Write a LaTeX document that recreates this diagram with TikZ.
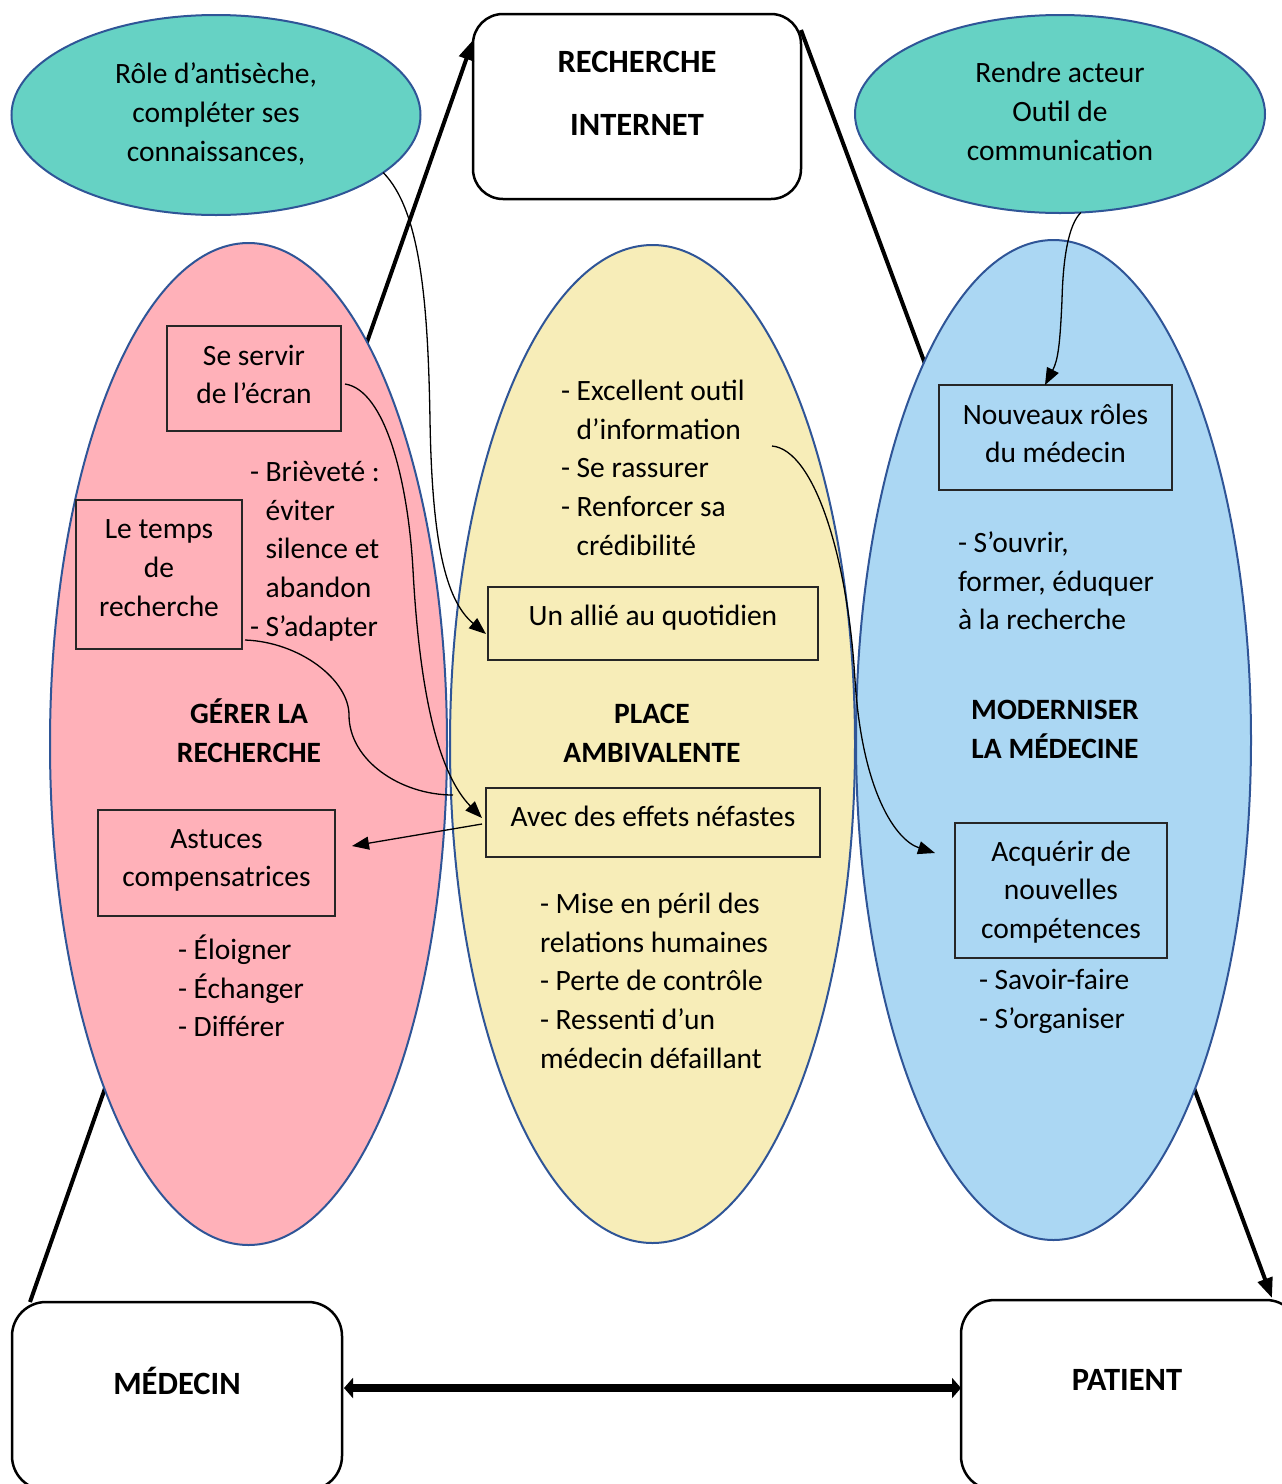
\documentclass[tikz,border=0pt]{standalone}
\usepackage{fontspec}
\setmainfont{Carlito}
\usetikzlibrary{shapes.geometric,arrows.meta}
\definecolor{tealc}{RGB}{102,210,196}
\definecolor{pinkc}{RGB}{255,177,185}
\definecolor{yellc}{RGB}{247,237,184}
\definecolor{bluec}{RGB}{171,215,243}
\definecolor{edgec}{RGB}{47,85,151}
\newcommand{\dpth}[1]{\rule[-#1pt]{0pt}{#1pt}}
\newcommand{\ind}{\phantom{- }}
\begin{document}
\begin{tikzpicture}[x=1pt,y=-1pt,
  every node/.style={font=\fontsize{29.5}{38.8}\selectfont, inner sep=0pt, outer sep=0pt},
  bigell/.style={ellipse, draw=edgec, line width=2pt},
  innerbox/.style={draw=black!85, line width=1.3pt, align=center},
  rbox/.style={draw=black, line width=2.5pt, rounded corners=30pt, align=center, font=\fontsize{32.5}{38.8}\selectfont\bfseries},
  txt/.style={align=left, anchor=north west},
  ttl/.style={align=center, anchor=north, font=\fontsize{29.5}{38.8}\selectfont\bfseries},
  bigarrow/.style={line width=4pt, -{Triangle[length=20pt,width=15pt]}},
  thinline/.style={line width=1.3pt},
  thinarrow/.style={line width=1.3pt, -{Triangle[length=17pt,width=13pt]}},
  dblarrow/.style={line width=8pt, {Triangle[length=9pt,width=20pt]}-{Triangle[length=9pt,width=20pt]}}
]
\useasboundingbox (0,0) rectangle (1282,1484);

% rounded boxes
\node[rbox, minimum width=328pt, minimum height=185pt] (recherche) at (637,106.5)
  {\strut RECHERCHE\\[24.2pt]INTERNET\dpth{31.3}};
\node[rbox, minimum width=330pt, minimum height=188pt, rounded corners=34pt] (medecin) at (177,1396)
  {\strut MÉDECIN\dpth{31.3}};
\node[rbox, minimum width=339pt, minimum height=190pt, rounded corners=34pt] (patient) at (1130.5,1395)
  {\strut PATIENT\hspace{7pt}\dpth{35.3}};

% thick connectors (behind the ellipses)
\draw[bigarrow] ([xshift=18pt]medecin.north west) -- ([yshift=-26pt]recherche.north west);
\draw[bigarrow] ([yshift=-16pt]recherche.north east) -- ([xshift=-28pt,yshift=2pt]patient.north east);

% big ellipses
\node[bigell, fill=pinkc, minimum width=397pt, minimum height=1002pt] (pink) at (248.5,744) {};
\node[bigell, fill=yellc, minimum width=405pt, minimum height=998pt] (yellow) at (652.5,744) {};
\node[bigell, fill=bluec, minimum width=395pt, minimum height=1000pt] (blue) at (1053.5,740) {};

% teal ellipses
\node[bigell, fill=tealc, minimum width=409pt, minimum height=200pt, align=center] (antiseche) at (216,115)
  {\strut Rôle d’antisèche,\\compléter ses\\connaissances,\strut};
\node[bigell, fill=tealc, minimum width=410pt, minimum height=198pt, align=center] (acteur) at (1060,114)
  {\strut Rendre acteur\\Outil de\\communication\strut};

% pink ellipse content
\node[innerbox, minimum width=174pt, minimum height=105pt] (servir) at (254,378.5)
  {\strut Se servir\\de l’écran\dpth{15.3}};
\node[innerbox, minimum width=166pt, minimum height=149pt] (temps) at (159,574.5)
  {\strut Le temps\\de\\recherche\dpth{21.3}};
\node[innerbox, minimum width=237pt, minimum height=106pt] (astuces) at (216.5,863)
  {\strut Astuces\\compensatrices\dpth{18.3}};
\node[txt] (brievete) at (250,454.2)
  {\strut - Brièveté :\\\ind éviter\\\ind silence et\\\ind abandon\\- S’adapter\strut};
\node[ttl] (gerer) at (249,696.2) {\strut GÉRER LA\\RECHERCHE\strut};
\node[txt] (eloigner) at (178,932.2)
  {\strut - Éloigner\\- Échanger\\- Différer\strut};

% yellow ellipse content
\node[txt] (outil) at (561,373.2)
  {\strut - Excellent outil\\\ind d’information\\- Se rassurer\\- Renforcer sa\\\ind crédibilité\strut};
\node[innerbox, minimum width=330pt, minimum height=73pt] (allie) at (653,623.5)
  {\strut Un allié au quotidien\dpth{22.3}};
\node[ttl] (place) at (652,696.2) {\strut PLACE\\AMBIVALENTE\strut};
\node[innerbox, minimum width=334pt, minimum height=69pt] (avec) at (653,822.5)
  {\strut Avec des effets néfastes\dpth{18.3}};
\node[txt] (peril) at (540,886.2)
  {\strut - Mise en péril des\\relations humaines\\- Perte de contrôle\\- Ressenti d’un\\médecin défaillant\strut};

% blue ellipse content
\node[innerbox, minimum width=233pt, minimum height=105pt] (nouveaux) at (1055.5,437.5)
  {\strut Nouveaux rôles\\du médecin\dpth{15.3}};
\node[txt] (ouvrir) at (958,525.2)
  {\strut - S’ouvrir,\\former, éduquer\\à la recherche\strut};
\node[ttl] (moderniser) at (1055,692.2) {\strut MODERNISER\\LA MÉDECINE\strut};
\node[innerbox, minimum width=212pt, minimum height=135pt] (acquerir) at (1061,890.5)
  {\strut Acquérir de\\nouvelles\\compétences\dpth{8.3}};
\node[txt] (savoir) at (979,962.2)
  {\strut - Savoir-faire\\- S’organiser\strut};

% thin connectors
\coordinate (tempsend) at (453,795);
\coordinate (infostart) at (772,446);
\draw[thinarrow] (antiseche.-19) .. controls (420,210) and (428,300) .. (430,420)
  .. controls (432,540) and (445,600) .. ([xshift=-2pt,yshift=-10.5pt]allie.west);
\draw[thinarrow] ([xshift=4pt,yshift=-5.5pt]servir.east) .. controls (385,390) and (408,480) .. (413,570)
  .. controls (420,700) and (440,775) .. ([xshift=-4pt,yshift=4.5pt]avec.west);
\draw[thinline] ([xshift=3pt,yshift=9pt]temps.south east) .. controls (300,642) and (349,680) .. (349,715)
  .. controls (349,760) and (400,795) .. (tempsend);
\draw[thinarrow] ([xshift=-4pt,yshift=-1.5pt]avec.west) -- ([xshift=17pt,yshift=17pt]astuces.east);
\draw[thinarrow] (infostart) .. controls (815,450) and (848,560) .. (855,680)
  .. controls (862,790) and (895,840) .. ([xshift=-20pt,yshift=37.5pt]acquerir.west);
\draw[thinarrow] (acteur.-78.6) .. controls (1068,225) and (1063,260) .. (1062,300)
  .. controls (1060,345) and (1058,360) .. ([xshift=-10.5pt]nouveaux.north);

% medecin <-> patient
\draw[dblarrow] ([xshift=2pt,yshift=8pt]medecin.east) -- ([yshift=8pt]medecin.east -| patient.west);
\end{tikzpicture}
\end{document}
